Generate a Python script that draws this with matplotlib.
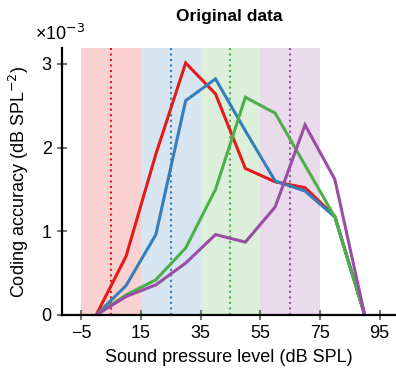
import numpy as np
import matplotlib
matplotlib.use('Agg')
import matplotlib.pyplot as plt

# sound level (dB SPL) and coding accuracy (x 1e-3)
levels = [0, 10, 20, 30, 40, 50, 60, 70, 80, 90]
red = [0, 0.70, 1.92, 3.01, 2.64, 1.75, 1.59, 1.52, 1.18, 0]
blue = [0, 0.35, 0.96, 2.56, 2.82, 2.20, 1.60, 1.48, 1.17, 0]
green = [0, 0.24, 0.42, 0.80, 1.50, 2.60, 2.41, 1.79, 1.17, 0]
purple = [0, 0.22, 0.36, 0.62, 0.96, 0.87, 1.29, 2.27, 1.62, 0]
bands = [(-5, 15), (15, 35), (35, 55), (55, 75)]
centers = [5, 25, 45, 65]
xticks = [-5, 15, 35, 55, 75, 95]
yticks = [0, 1, 2, 3]

colors = ['#E41A1C', '#377EB8', '#4DAF4A', '#984EA3']
series = [red, blue, green, purple]

plt.rcParams['font.family'] = ['Liberation Sans', 'DejaVu Sans']
fig = plt.figure(figsize=(3.96, 3.71), dpi=100)
ax = fig.add_axes([0.157, 0.151, 0.843, 0.720])

ytop = 3.19
for (a, b), c in zip(bands, colors):
    ax.axvspan(a, b, color=c, alpha=0.2, lw=0)
for xc, c in zip(centers, colors):
    ax.plot([xc, xc], [0, ytop], ls=':', color=c, lw=1.5)
for s, c in zip(series, colors):
    ax.plot(levels, s, color=c, lw=2.2, solid_joinstyle='miter')

ax.set_xlim(-11.4, 100.5)
ax.set_ylim(0, ytop)
ax.set_xticks(xticks)
ax.set_xticklabels([str(t).replace('-', '\u2212') for t in xticks])
ax.set_yticks(yticks)
for side in ['top', 'right']:
    ax.spines[side].set_visible(False)
for side in ['left', 'bottom']:
    ax.spines[side].set_linewidth(1.6)
ax.tick_params(direction='inout', length=7, width=1.5, color='#777777',
               labelsize=13, pad=4)
ax.set_xlabel('Sound pressure level (dB SPL)', fontsize=13, labelpad=5)
ax.set_ylabel('Coding accuracy (dB SPL$^{-2}$)', fontsize=13, labelpad=8)
ax.set_title('Original data', fontsize=12.5, fontweight='bold', pad=19)
fig.text(0.088, 0.882, '\u00d710$^{-3}$', fontsize=13, ha='left', va='bottom')

plt.savefig('out.png', dpi=100)
plt.close()
